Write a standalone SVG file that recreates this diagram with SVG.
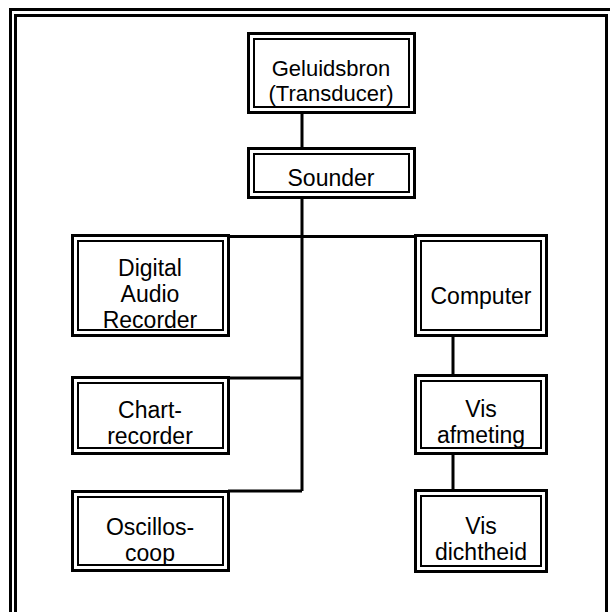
<svg xmlns="http://www.w3.org/2000/svg" width="610" height="612" viewBox="0 0 610 612">
<style>
.o{fill:#fff;stroke:#000;stroke-width:3}
.i{fill:none;stroke:#000;stroke-width:2}
.c{fill:none;stroke:#000;stroke-width:3}
text{font-family:"Liberation Sans",Arial,sans-serif;font-size:23px;text-anchor:middle;fill:#000}
.s{font-size:22px}
</style>
<rect x="0" y="0" width="610" height="612" fill="#fff"/>
<g id="frame">
<rect x="10.5" y="9.5" width="620" height="620" fill="none" stroke="#000" stroke-width="3"/>
<rect x="15.5" y="15.5" width="591" height="620" fill="none" stroke="#000" stroke-width="3"/>
</g>
<g id="connectors">
<path class="c" d="M302 112V150M302 197V491M228 236.5H415M228 378H302M228 491H302M453 335V375M453 453V491"/>
</g>
<g id="geluidsbron">
<rect class="o" x="248.5" y="33.5" width="166" height="79"/>
<rect class="i" x="254" y="39" width="155" height="68"/>
<text class="s" x="331" y="76">Geluidsbron</text>
<text class="s" x="331" y="101">(Transducer)</text>
</g>
<g id="sounder">
<rect class="o" x="248.5" y="148.5" width="166" height="49"/>
<rect class="i" x="254" y="154" width="155" height="38"/>
<text x="331" y="186">Sounder</text>
</g>
<g id="dar">
<rect class="o" x="72.5" y="235.5" width="156" height="100"/>
<rect class="i" x="78" y="241" width="145" height="89"/>
<text x="150" y="276">Digital</text>
<text x="150" y="302">Audio</text>
<text x="150" y="328">Recorder</text>
</g>
<g id="computer">
<rect class="o" x="415.5" y="235.5" width="131" height="100"/>
<rect class="i" x="421" y="241" width="120" height="89"/>
<text x="481" y="304">Computer</text>
</g>
<g id="chart">
<rect class="o" x="72.5" y="377.5" width="156" height="76"/>
<rect class="i" x="78" y="383" width="145" height="65"/>
<text x="150" y="418">Chart-</text>
<text x="150" y="444">recorder</text>
</g>
<g id="visafmeting">
<rect class="o" x="415.5" y="375.5" width="131" height="78"/>
<rect class="i" x="421" y="381" width="120" height="67"/>
<text x="481" y="417">Vis</text>
<text x="481" y="443">afmeting</text>
</g>
<g id="oscilloscoop">
<rect class="o" x="72.5" y="491.5" width="156" height="79"/>
<rect class="i" x="78" y="497" width="145" height="68"/>
<text x="150" y="535">Oscillos-</text>
<text x="150" y="561">coop</text>
</g>
<g id="visdichtheid">
<rect class="o" x="415.5" y="490.5" width="131" height="81"/>
<rect class="i" x="421" y="496" width="120" height="70"/>
<text x="481" y="534">Vis</text>
<text x="481" y="560">dichtheid</text>
</g>
</svg>
